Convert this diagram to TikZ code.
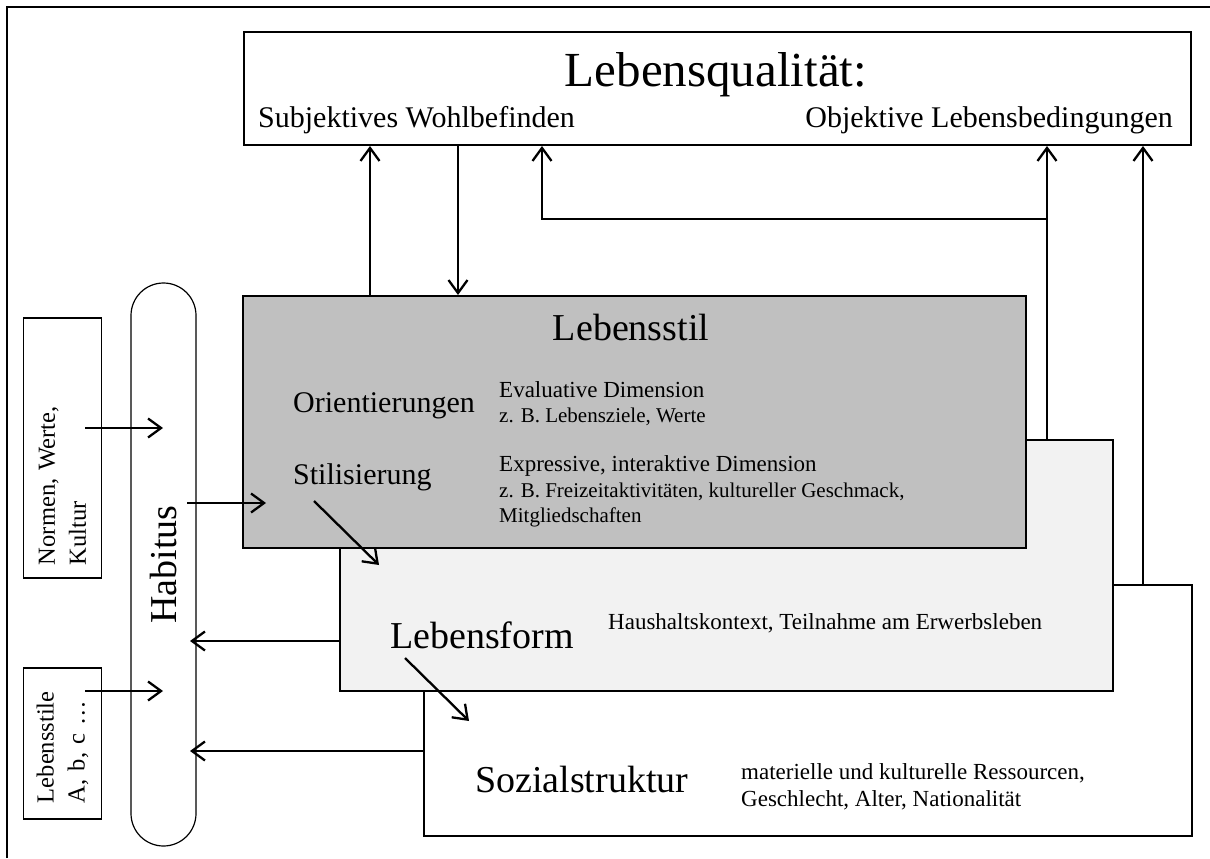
\documentclass[tikz,border=0pt]{standalone}
\usepackage{fontspec}
\setmainfont{Liberation Serif}
\usetikzlibrary{arrows.meta}
\definecolor{lsgray}{HTML}{C0C0C0}
\definecolor{lfgray}{HTML}{F2F2F2}
\begin{document}
\begin{tikzpicture}[x=1pt,y=-1pt,
  boxst/.style={draw, line width=1.5pt, inner sep=0pt, anchor=north west},
  arr/.style={-{Straight Barb[length=13pt,width=19pt]}, line width=2.3pt},
  txt/.style={inner sep=0pt, anchor=base west},
  fxl/.style={font=\fontsize{49}{59}\selectfont},
  fl/.style={font=\fontsize{38}{46}\selectfont},
  fm/.style={font=\fontsize{30}{36}\selectfont},
  fs/.style={font=\fontsize{23}{28}\selectfont},
  fxs/.style={font=\fontsize{21}{25}\selectfont},
  side/.style={draw, line width=1.3pt, rotate=90, inner xsep=0pt, inner ysep=0pt,
    align=left, font=\fontsize{24.5}{31}\selectfont}]
\useasboundingbox (0,0) rectangle (1210,859);
\draw[line width=1.5pt] (7,858) -- (7,7) -- (1210,7);

% main boxes
\node[boxst, line width=2pt, minimum width=947, minimum height=113] (lq) at (243,31) {};
\node[boxst, fill=white, minimum width=768, minimum height=251] (sz) at (423,584) {};
\node[boxst, fill=lfgray, minimum width=773, minimum height=251] (lf) at (339,439) {};
\node[boxst, fill=lsgray, minimum width=783, minimum height=252] (ls) at (242,295) {};

% habitus and side boxes
\node[draw, line width=1.2pt, rotate=90, rounded corners=32.5pt, minimum width=563,
  minimum height=65, inner sep=0pt, font=\fontsize{38}{46}\selectfont] (hab) at (163.5,564.5) {Habitus};
\node[side, minimum width=260, minimum height=78, text width=234] (normen) at (62.5,448) {Normen, Werte,\\Kultur};
\node[side, minimum width=151, minimum height=78, text width=119] (lstile) at (62.5,743.5) {Lebensstile\\A, b, c \dots};

% texts
\node[fxl, inner sep=0pt, anchor=base] (lqt) at (716,87) {Lebensqualität:};
\node[fm, txt] (subj) at (258,127) {Subjektives Wohlbefinden};
\node[fm, inner sep=0pt, anchor=base east] (obj) at (1173,127) {Objektive Lebensbedingungen};

\node[fl, inner sep=0pt, anchor=base] (lst) at (631,340) {Lebensstil};
\node[fm, txt] (orient) at (293,412) {Orientierungen};
\node[fm, txt] (stil) at (293,484) {Stilisierung};
\node[fs, txt] (eval) at (499,397) {Evaluative Dimension};
\node[fxs, txt] (evalz) at (499,422) {z. B. Lebensziele, Werte};
\node[fs, txt] (expr) at (499,471) {Expressive, interaktive Dimension};
\node[fxs, txt] (exprz) at (499,497) {z. B. Freizeitaktivitäten, kultureller Geschmack,};
\node[fxs, txt] (mitgl) at (499,522) {Mitgliedschaften};

\node[fl, txt] (lft) at (390,648) {Lebensform};
\node[fs, txt] (haus) at (608,629) {Haushaltskontext, Teilnahme am Erwerbsleben};

\node[fl, txt] (szt) at (475,792) {Sozialstruktur};
\node[fs, txt] (mat) at (741,779) {materielle und kulturelle Ressourcen,};
\node[fs, txt] (geschl) at (741,806) {Geschlecht, Alter, Nationalität};

% connector points
\coordinate (j) at (1047,219);
\coordinate (n1) at (85,428);
\coordinate (l1) at (85,691);
\coordinate (h1) at (187,503);
\coordinate (s1) at (314,501);
\coordinate (s2) at (379,565);
\coordinate (f1) at (405,658);
\coordinate (f2) at (469,721);

% connectors
\draw[arr] (370,0 |- ls.north) -- (370,0 |- lq.south);
\draw[arr] (458,0 |- lq.south) -- (458,0 |- ls.north);
\draw[arr] (j |- lf.north) -- (j |- lq.south);
\draw[arr] (j) -- (542,219) -- (542,0 |- lq.south);
\draw[arr] (1143,0 |- sz.north) -- (1143,0 |- lq.south);

\draw[arr] (n1) -- (163,428);
\draw[arr] (l1) -- (163,691);
\draw[arr] (h1) -- (266,503);
\draw[arr] (s1) -- (s2);
\draw[arr] (f1) -- (f2);
\draw[arr] (lf.west |- 0,641) -- (190,641);
\draw[arr] (sz.west |- 0,751) -- (190,751);
\end{tikzpicture}
\end{document}
